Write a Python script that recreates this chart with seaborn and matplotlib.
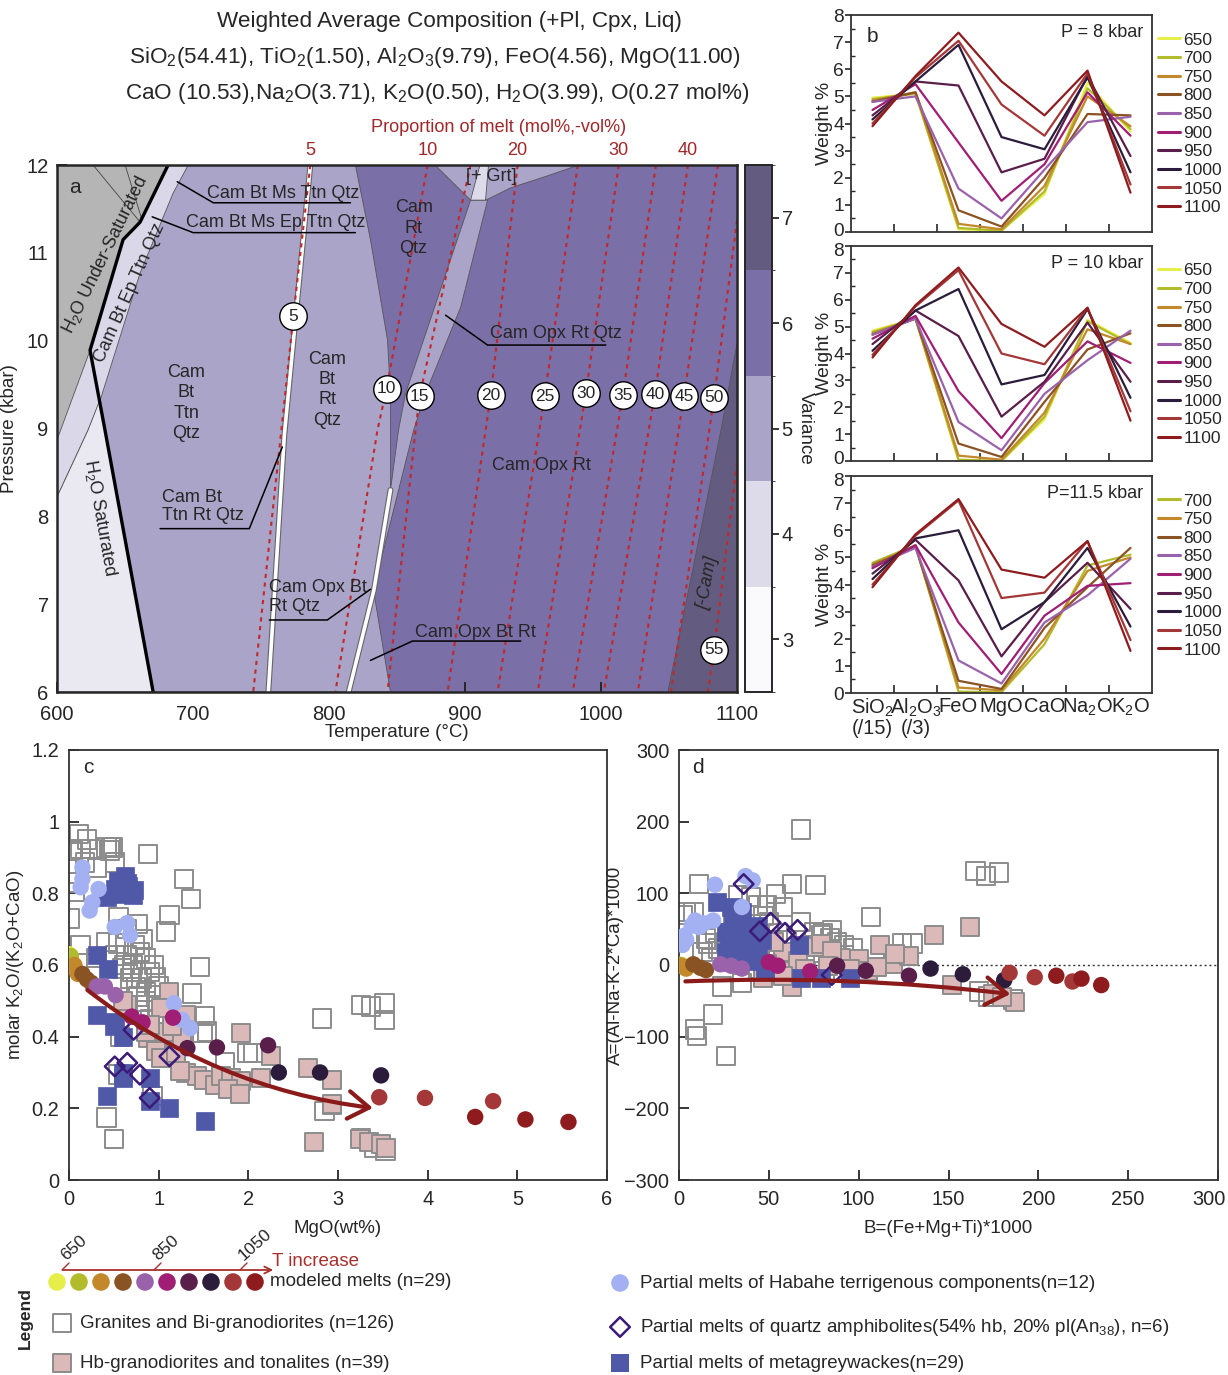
import numpy as np
import pandas as pd
import seaborn as sns
import matplotlib.pyplot as plt
from matplotlib import font_manager
from matplotlib.patches import FancyArrowPatch
from matplotlib.lines import Line2D
from matplotlib.colors import ListedColormap, BoundaryNorm
from matplotlib.cm import ScalarMappable
from matplotlib.ticker import MultipleLocator
from matplotlib.transforms import ScaledTranslation

# ---------------- panel a : phase diagram fields (T degC, P kbar) ----------------
grey_T = [600, 681.7, 661.1, 648.6, 624.3, 600]
grey_P = [12, 12, 11.35, 11.15, 9.89, 8.87]
solidus_T = [681.7, 661.1, 648.6, 624.3, 635.3, 670.7]
solidus_P = [12, 11.35, 11.15, 9.89, 8.98, 6.0]
epband_T = [600, 696.5, 685.4, 661.1, 631.7, 622.8, 600]
epband_P = [12, 12, 11.68, 10.77, 9.32, 8.98, 8.22]
sat_T = [600, 600, 622.8, 631.4, 635.3, 670.7]
sat_P = [6, 8.22, 8.98, 9.32, 8.98, 6]
var5_T = [600, 819.4, 830.5, 843.0, 845.2, 845.2, 851.1, 856.3, 904.1, 916.6,
          896.8, 871.0, 862.2, 832.7, 845.2, 600]
var5_P = [12, 12, 11.15, 10.01, 9.40, 8.30, 8.98, 9.40, 11.60, 11.60,
          10.38, 9.40, 8.98, 7.16, 6.0, 6.0]
grt_T = [878.0, 983.7, 959.4, 933.6, 916.6, 904.1]
grt_P = [12, 12, 11.87, 11.74, 11.61, 11.60]
grtgap_T = [904.1, 915.1, 917.3, 911.0]
grtgap_P = [11.6, 11.6, 12, 12]
nocam_T = [1049.2, 1088.2, 1100, 1100]
nocam_P = [6, 8.98, 9.97, 6]
white1_T = [786.3, 767.2, 755.4]
white1_P = [12, 8.93, 6]
white2_T = [845.2, 833.0, 814.5]
white2_P = [8.30, 7.16, 6]

# melt isopleths (mol%)
iso_melt = [5, 10, 15, 20, 25, 30, 35, 40, 45, 50, 55]
iso_T = [[786.3, 773.8, 764.2, 744.3], [872.5, 842.3, 835.6, 804.7],
         [904.1, 866.6, 863.6, 843.0], [938.7, 918.9, 887.2], [982.9, 958.6, 924.0],
         [1013.1, 988.8, 953.5], [1040.4, 1016.1, 979.2], [1063.9, 1039.6, 1002.1],
         [1086.0, 1061.0, 1027.1], [1100, 1083.1, 1051.4], [1100, 1083.1, 1078.6]]
iso_P = [[12, 10.28, 8.87, 6], [12, 9.45, 8.98, 6], [12, 9.37, 8.98, 6], [12, 9.38, 6],
         [12, 9.37, 6], [12, 9.40, 6], [12, 9.38, 6], [12, 9.39, 6], [12, 9.37, 6],
         [11.37, 9.35, 6], [8.61, 6.48, 6]]
top_melt = [5, 10, 20, 30, 40]

variance_levels = [3, 4, 5, 6, 7]
variance_colors = ['#fafafc', '#dddbea', '#aaa4c9', '#7b6fa8', '#645c80']

# ---------------- panel b : melt compositions ----------------
oxides = ['SiO$_2$\n(/15)', 'Al$_2$O$_3$\n(/3)', 'FeO', 'MgO', 'CaO', 'Na$_2$O', 'K$_2$O']
temps = [650, 700, 750, 800, 850, 900, 950, 1000, 1050, 1100]
temp_colors = ['#e6ee4a', '#b2bb2c', '#c2882a', '#8a5324', '#9a62aa', '#a01e74',
               '#5a1e4a', '#2a1c3a', '#a43838', '#8e1c1e']
wt_8kbar = [[4.95, 5.10, 0.10, 0.05, 1.40, 5.50, 3.70],
            [4.90, 5.10, 0.15, 0.05, 1.50, 5.30, 3.80],
            [4.85, 5.15, 0.30, 0.10, 1.70, 5.00, 3.90],
            [4.80, 5.15, 0.80, 0.20, 2.00, 4.35, 4.30],
            [4.80, 5.00, 1.60, 0.50, 2.30, 4.05, 4.25],
            [4.50, 5.45, 3.30, 1.15, 2.50, 5.15, 3.55],
            [4.30, 5.55, 5.40, 2.20, 2.70, 5.75, 2.80],
            [4.15, 5.55, 6.90, 3.50, 3.05, 5.70, 2.20],
            [4.00, 5.70, 7.05, 4.70, 3.55, 5.85, 1.75],
            [3.90, 5.75, 7.35, 5.55, 4.30, 5.95, 1.45]]
wt_10kbar = [[4.85, 5.30, 0.02, 0.00, 1.55, 5.25, 4.40],
             [4.80, 5.30, 0.05, 0.00, 1.65, 5.20, 4.35],
             [4.75, 5.30, 0.20, 0.05, 1.80, 4.90, 4.35],
             [4.70, 5.30, 0.65, 0.15, 2.20, 4.15, 4.75],
             [4.70, 5.30, 1.45, 0.40, 2.50, 3.75, 4.85],
             [4.55, 5.40, 2.60, 0.85, 2.90, 4.45, 3.65],
             [4.35, 5.60, 4.65, 1.65, 2.95, 5.15, 2.95],
             [4.10, 5.60, 6.40, 2.85, 3.20, 5.65, 2.35],
             [3.95, 5.75, 7.10, 4.00, 3.60, 5.70, 1.85],
             [3.85, 5.80, 7.20, 5.10, 4.25, 5.70, 1.50]]
temps_115 = [700, 750, 800, 850, 900, 950, 1000, 1050, 1100]
wt_115kbar = [[4.80, 5.45, 0.05, 0.03, 1.80, 4.70, 5.10],
              [4.75, 5.40, 0.20, 0.10, 2.00, 4.50, 5.00],
              [4.70, 5.40, 0.45, 0.15, 2.40, 3.90, 5.35],
              [4.65, 5.35, 1.20, 0.35, 2.60, 3.60, 4.95],
              [4.60, 5.45, 2.60, 0.70, 2.85, 3.95, 4.05],
              [4.40, 5.65, 4.15, 1.35, 3.35, 4.80, 3.10],
              [4.20, 5.70, 6.00, 2.35, 3.35, 5.35, 2.45],
              [4.00, 5.80, 7.10, 3.50, 3.70, 5.60, 1.95],
              [3.90, 5.85, 7.15, 4.55, 4.25, 5.60, 1.55]]

# ---------------- panel c : MgO vs molar K2O/(K2O+CaO) ----------------
model_T = [650, 650, 700, 700, 700, 750, 750, 750, 800, 800, 800, 850, 850, 850,
           900, 900, 900, 950, 950, 950, 1000, 1000, 1000, 1050, 1050, 1050, 1100, 1100, 1100]
c_model_mgo = [0.0, 0.01, 0.02, 0.03, 0.04, 0.06, 0.08, 0.10, 0.15, 0.20, 0.25, 0.31, 0.40, 0.52,
               0.70, 0.82, 1.16, 1.32, 1.65, 2.22, 2.34, 2.80, 3.48, 3.46, 3.97, 4.73, 4.53, 5.09, 5.57]
c_model_ratio = [0.63, 0.61, 0.625, 0.605, 0.595, 0.60, 0.585, 0.575, 0.575, 0.56, 0.55, 0.54, 0.54,
                 0.516, 0.456, 0.44, 0.453, 0.368, 0.37, 0.376, 0.30, 0.30, 0.292, 0.231, 0.229,
                 0.22, 0.176, 0.169, 0.162]
c_gran_mgo = [0.11, 0.13, 0.04, 0.24, 0.42, 0.49, 0.46, 0.31, 0.18, 0.51, 0.88, 1.28, 1.36, 0.01,
              0.02, 0.07, 0.55, 0.77, 1.12, 1.08, 0.82, 0.73, 0.55, 0.42, 0.13, 0.51, 0.64, 0.79,
              0.86, 0.71, 0.59, 0.90, 0.97, 0.81, 0.68, 0.75, 0.86, 1.46, 1.37, 1.52, 1.54, 1.49,
              1.99, 2.05, 1.74, 2.82, 3.26, 3.37, 3.52, 3.52, 2.85, 2.93, 0.42, 0.50, 0.93, 0.55,
              0.57, 0.86, 0.99, 0.77, 3.40, 3.53, 3.26, 0.62, 0.70, 0.95, 0.65, 0.30, 0.20, 0.47,
              1.00, 0.90, 1.20, 1.10, 0.78]
c_gran_ratio = [0.965, 0.923, 0.92, 0.923, 0.928, 0.928, 0.92, 0.87, 0.886, 0.886, 0.91, 0.84,
                0.785, 0.73, 0.83, 0.803, 0.734, 0.715, 0.74, 0.694, 0.673, 0.655, 0.66, 0.664,
                0.655, 0.627, 0.627, 0.636, 0.618, 0.60, 0.59, 0.581, 0.567, 0.562, 0.562, 0.539,
                0.525, 0.595, 0.52, 0.458, 0.414, 0.41, 0.354, 0.354, 0.33, 0.451, 0.488, 0.484,
                0.493, 0.447, 0.192, 0.21, 0.174, 0.114, 0.234, 0.294, 0.40, 0.498, 0.484, 0.512,
                0.09, 0.081, 0.118, 0.60, 0.58, 0.60, 0.70, 0.62, 0.95, 0.93, 0.54, 0.45, 0.40,
                0.36, 0.46]
c_hb_mgo = [1.12, 1.03, 0.65, 1.30, 1.08, 0.88, 0.97, 1.03, 1.19, 1.30, 1.43, 1.50, 1.63, 1.70,
            1.81, 1.92, 1.77, 1.91, 1.92, 2.25, 2.14, 2.67, 2.93, 2.93, 2.73, 3.24, 3.35, 3.48,
            3.53, 0.86, 0.90, 1.26, 1.24, 0.60, 1.15]
c_hb_ratio = [0.525, 0.479, 0.488, 0.461, 0.414, 0.396, 0.359, 0.34, 0.354, 0.299, 0.29, 0.28,
              0.266, 0.29, 0.285, 0.276, 0.253, 0.239, 0.41, 0.345, 0.285, 0.313, 0.28, 0.211,
              0.105, 0.114, 0.105, 0.10, 0.09, 0.414, 0.433, 0.396, 0.303, 0.50, 0.43]
c_grey_mgo = [0.62, 0.55, 0.66, 0.73, 0.51, 0.42, 0.60, 0.71, 0.31, 0.43, 0.31, 0.51, 0.60, 0.60,
              0.90, 0.42, 0.90, 1.12, 1.52, 0.65, 0.58, 0.50, 0.60]
c_grey_ratio = [0.849, 0.835, 0.821, 0.808, 0.812, 0.789, 0.798, 0.794, 0.627, 0.59, 0.461, 0.442,
                0.40, 0.285, 0.285, 0.234, 0.22, 0.202, 0.165, 0.83, 0.81, 0.43, 0.30]
c_hab_mgo = [0.15, 0.15, 0.13, 0.33, 0.26, 0.23, 0.51, 0.65, 0.68, 1.17, 1.26, 1.35]
c_hab_ratio = [0.872, 0.84, 0.817, 0.812, 0.775, 0.752, 0.706, 0.717, 0.683, 0.493, 0.447, 0.424]
c_amph_mgo = [0.72, 0.51, 0.65, 0.79, 0.90, 1.12]
c_amph_ratio = [0.419, 0.317, 0.327, 0.294, 0.229, 0.345]
c_arrow = [(0.18, 0.535), (3.42, 0.20)]

# ---------------- panel d : B vs A ----------------
d_model_B = [-2, 0, 0, 1, 2, 1, 3, 4, 8, 12, 15, 23, 29, 35, 50, 55, 73, 88, 104, 128,
             140, 158, 181, 184, 198, 219, 210, 224, 235]
d_model_A = [0, 0, 0, 0, -1, -1, -3, -5, 1, -4, -7, 1, -1, -5, 4, -1, -9, -1, -8, -15,
             -5, -13, -21, -11, -17, -23, -15, -19, -28]
d_gran_B = [11, 68, 63, 76, 4, 8, 33, 54, 44, 49, 58, 68, 75, 79, 84, 88, 92, 97, 107, 124, 130,
            165, 171, 178, 167, 172, 186, 19, 9, 10, 26, 24, 35, 15, 13, 22, 26, 40, 44, 81, 92,
            30, 20, 38, 50, 55, 60, 18, 28, 45, 52, 70, 80, 85, 33, 40, 2, 16, 36, 47]
d_gran_A = [113, 189, 113, 112, 74, 74, 97, 99, 83, 83, 81, 60, 46, 41, 37, 32, 28, 23, 67, 30, 30,
            131, 124, 129, -37, -44, -48, -69, -90, -99, -127, -30, -25, 37, 18, 23, 32, 14, -5,
            -9, 14, 60, 45, 50, 60, 45, 35, 10, 5, 20, 10, 20, 45, 48, 75, 95, 70, 30, 30, 68]
d_hb_B = [142, 162, 112, 100, 119, 128, 152, 58, 53, 73, 77, 61, 63, 47, 187, 175, 180, 105, 79,
          49, 66, 90, 95, 110, 58, 85, 70, 120, 83, 45]
d_hb_A = [42, 53, 28, 9, 2, 12, -28, 18, 32, 28, 25, -9, -30, -18, -51, -41, -45, -9, 30, 2, 5,
          10, -5, -3, -15, 20, -5, 15, -2, 10]
d_grey_B = [21, 29, 35, 33, 26, 37, 44, 42, 31, 26, 44, 67, 68, 79, 95, 48, 35, 40, 30, 38, 46,
            28, 33, 41]
d_grey_A = [88, 81, 74, 58, 46, 41, 55, 28, 30, 18, 14, 28, -18, -18, -18, -5, 37, 51, 65, 20, 35,
            38, 10, 5]
d_hab_B = [20, 37, 41, 35, 19, 14, 9, 7, 3, 2, 11, 4]
d_hab_A = [112, 124, 118, 81, 62, 58, 62, 55, 41, 28, 53, 35]
d_amph_B = [36, 45, 51, 59, 66, 85]
d_amph_A = [113, 47, 59, 45, 49, -14]
d_arrow = [(2, -23), (186, -41)]

# ---------------- figure ----------------
sns.set_style("ticks")
names = {f.name for f in font_manager.fontManager.ttflist}
NARROW = 'Liberation Sans Narrow' in names
FN = ['Liberation Sans Narrow', 'Liberation Sans', 'DejaVu Sans'] if NARROW else ['Liberation Sans', 'DejaVu Sans']
plt.rcParams['font.family'] = ['Liberation Sans', 'DejaVu Sans']
plt.rcParams['mathtext.default'] = 'regular'
plt.rcParams['axes.linewidth'] = 1.4
nsz = 1.0 if NARROW else 0.93

W, H = 1228, 1375
fig = plt.figure(figsize=(W / 100, H / 100), dpi=100)


def box(x0, y0, x1, y1):
    return [x0 / W, 1 - y1 / H, (x1 - x0) / W, (y1 - y0) / H]


def shift(lbl, dy_px):
    lbl.set_transform(lbl.get_transform() + ScaledTranslation(0, dy_px / 100, fig.dpi_scale_trans))


pal = dict(zip(temps, temp_colors))

# title
tsz = 17.5 if NARROW else 16.2
fig.text(449 / W, 1 - 21 / H, 'Weighted Average Composition (+Pl, Cpx, Liq)', family=FN,
         fontsize=tsz, ha='center', va='center')
fig.text(435 / W, 1 - 57 / H, 'SiO$_2$(54.41), TiO$_2$(1.50), Al$_2$O$_3$(9.79), FeO(4.56), MgO(11.00)',
         family=FN, fontsize=tsz, ha='center', va='center')
fig.text(437 / W, 1 - 93 / H, 'CaO (10.53),Na$_2$O(3.71), K$_2$O(0.50), H$_2$O(3.99), O(0.27 mol%)',
         family=FN, fontsize=tsz, ha='center', va='center')
fig.text(499 / W, 1 - 128 / H, 'Proportion of melt (mol%,-vol%)', family=FN, fontsize=14 * nsz,
         color='#a0282a', ha='center', va='center')

# ---- panel a ----
axa = fig.add_axes(box(57, 165, 737, 692))
axa.set_xlim(600, 1100)
axa.set_ylim(6, 12)
axa.set_facecolor(variance_colors[3])
edge = dict(ec='#555555', lw=0.6)
axa.fill(var5_T, var5_P, fc=variance_colors[2], zorder=1, **edge)
axa.fill(epband_T, epband_P, fc='#d9d7e8', zorder=1.2, **edge)
axa.fill(sat_T, sat_P, fc='#eae9f2', zorder=1.3, **edge)
axa.fill(grey_T, grey_P, fc='#b5b5b5', zorder=1.4, **edge)
axa.fill(grt_T, grt_P, fc='#aba5ca', zorder=1.5, **edge)
axa.fill(grtgap_T, grtgap_P, fc='#dddbea', zorder=1.6, **edge)
axa.fill(nocam_T, nocam_P, fc=variance_colors[4], zorder=1.5, **edge)
axa.plot([626.5, 661.1], [12, 11.35], color='#444', lw=0.6, zorder=1.7)
axa.plot([650.1, 662.6], [12, 11.37], color='#444', lw=0.6, zorder=1.7)
for wT, wP in [(white1_T, white1_P), (white2_T, white2_P)]:
    axa.plot(wT, wP, color='#666', lw=4.2, zorder=2)
    axa.plot(wT, wP, color='white', lw=2.6, zorder=2.1)
for t, p in zip(iso_T, iso_P):
    axa.plot(t, p, color='#c0282a', lw=1.5, ls=(0, (2.0, 2.2)), zorder=3)
axa.plot(solidus_T, solidus_P, color='black', lw=2.4, zorder=4)

lab_T = [t[1] for t in iso_T]
lab_P = [p[1] for p in iso_P]
axa.scatter(lab_T, lab_P, s=390, c='white', ec='black', lw=1.0, zorder=6)
for m, t, p in zip(iso_melt, lab_T, lab_P):
    axa.text(t, p, str(m), ha='center', va='center', fontsize=12.5, zorder=7)
for m, t, p in zip(iso_melt, iso_T, iso_P):
    if m in top_melt:
        axa.annotate(str(m), (t[0], 12), xytext=(0, 4), textcoords='offset points',
                     ha='center', va='bottom', fontsize=14 * nsz, family=FN, color='#a0282a',
                     annotation_clip=False)

fs_a = 13
axa.text(613, 11.74, 'a', fontsize=15, ha='center', va='center', zorder=8)
axa.text(635.3, 10.98, 'H$_2$O Under-Saturated', rotation=64, fontsize=fs_a, ha='center', va='center', zorder=8)
axa.text(653.5, 10.55, 'Cam Bt Ep Ttn Qtz', rotation=66, fontsize=fs_a, ha='center', va='center', zorder=8)
axa.text(631.5, 7.98, 'H$_2$O Saturated', rotation=-80, fontsize=fs_a, ha='center', va='center', zorder=8)
axa.text(695, 9.29, 'Cam\nBt\nTtn\nQtz', fontsize=fs_a, ha='center', va='center', linespacing=1.25, zorder=8)
axa.text(798.8, 9.44, 'Cam\nBt\nRt\nQtz', fontsize=fs_a, ha='center', va='center', linespacing=1.25, zorder=8)
axa.text(862.2, 11.28, 'Cam\nRt\nQtz', fontsize=fs_a, ha='center', va='center', linespacing=1.25, zorder=8)
axa.text(919.6, 11.87, '[+ Grt]', fontsize=fs_a, ha='center', va='center', zorder=8)
axa.text(956.4, 8.58, 'Cam Opx Rt', fontsize=fs_a, ha='center', va='center', zorder=8)
axa.text(1078.6, 7.24, '[-Cam]', fontsize=fs_a, style='italic', rotation=80, ha='center', va='center', zorder=8)

leaders = [
    ('Cam Bt Ms Ttn Qtz', [688.4, 714.9, 815.8], [11.81, 11.57, 11.57], (766.4, 11.68), 'center'),
    ('Cam Bt Ms Ep Ttn Qtz', [670.0, 700.1, 819.4], [11.41, 11.23, 11.23], (760.5, 11.35), 'center'),
    ('Cam Opx Rt Qtz', [885.7, 916.6, 1003.5], [10.29, 9.95, 9.95], (966.7, 10.08), 'center'),
    ('Cam Bt\nTtn Rt Qtz', [765.7, 741.4, 675.8], [8.79, 7.86, 7.86], (677.3, 8.11), 'left'),
    ('Cam Opx Bt\nRt Qtz', [830.5, 798.8, 756.1], [7.17, 6.82, 6.82], (756.1, 7.08), 'left'),
    ('Cam Opx Bt Rt', [830.5, 861.4, 941.0], [6.36, 6.58, 6.58], (907.8, 6.68), 'center'),
]
for txt, lx, ly, pos, ha in leaders:
    axa.plot(lx, ly, color='black', lw=1.1, zorder=5)
    axa.text(pos[0], pos[1], txt, fontsize=fs_a, ha=ha, va='center', linespacing=1.1, zorder=8)

axa.set_xticks([600, 700, 800, 900, 1000, 1100])
axa.set_yticks([6, 7, 8, 9, 10, 11, 12])
axa.tick_params(direction='in', length=7, width=1.4, labelsize=14.5, pad=6)
axa.tick_params(axis='x', pad=9)
axa.set_xlabel('Temperature (°C)', fontsize=13.5, labelpad=0)
axa.set_ylabel('Pressure (kbar)', fontsize=13.5, labelpad=6)
for s in axa.spines.values():
    s.set_linewidth(1.8)
    s.set_zorder(9)

axcb = fig.add_axes(box(745, 165, 772, 692))
cmap = ListedColormap(variance_colors)
norm = BoundaryNorm([2.5, 3.5, 4.5, 5.5, 6.5, 7.5], cmap.N)
cb = fig.colorbar(ScalarMappable(norm=norm, cmap=cmap), cax=axcb, ticks=variance_levels)
cb.outline.set_linewidth(1.4)
axcb.tick_params(labelsize=14.5, length=5, width=1.3, direction='out', pad=2)
cb.set_label('Variance', rotation=270, fontsize=13.5, labelpad=15)

# ---- panel b ----
b_boxes = [(851, 15, 1152, 232), (851, 246, 1152, 461), (851, 476, 1152, 693)]
b_sets = [(temps, wt_8kbar, 'P = 8 kbar'), (temps, wt_10kbar, 'P = 10 kbar'),
          (temps_115, wt_115kbar, 'P=11.5 kbar')]
for k, (bx, (tlist, vals, ptxt)) in enumerate(zip(b_boxes, b_sets)):
    ax = fig.add_axes(box(*bx))
    df = pd.DataFrame([(t, i, v) for t, row in zip(tlist, vals) for i, v in enumerate(row)],
                      columns=['T', 'pos', 'wt'])
    sns.lineplot(data=df, x='pos', y='wt', hue='T', palette={t: pal[t] for t in tlist},
                 ax=ax, legend=False, linewidth=1.6, estimator=None, sort=False)
    ax.set_xlim(-0.5, 6.5)
    ax.set_ylim(0, 8)
    ax.set_yticks(range(9))
    ax.yaxis.set_minor_locator(MultipleLocator(0.5))
    ax.set_xticks(range(7))
    ax.set_xticks([0.5, 1.5, 2.5, 3.5, 4.5, 5.5], minor=True)
    ax.tick_params(axis='x', which='major', length=0, pad=3)
    ax.tick_params(axis='x', which='minor', direction='in', length=6, width=1.2)
    ax.tick_params(axis='y', which='major', direction='out', length=4, width=1.2, labelsize=13.8, pad=1)
    ax.tick_params(axis='y', which='minor', direction='in', length=3, width=1.0)
    ylabels = ax.get_yticklabels()
    if k < 2:
        shift(ylabels[0], 3)
    if k > 0:
        shift(ylabels[-1], -3)
    if k == 2:
        ax.set_xticklabels(oxides, fontsize=14.5, linespacing=0.95)
        for lbl in ax.get_xticklabels():
            lbl.set_verticalalignment('top')
    else:
        ax.set_xticklabels([])
    ax.set_xlabel('')
    ax.set_ylabel('Weight %', fontsize=14, labelpad=0)
    ax.text(0.97, 0.92, ptxt, transform=ax.transAxes, ha='right', va='center', fontsize=13)
    if k == 0:
        ax.text(0.07, 0.90, 'b', transform=ax.transAxes, ha='center', va='center', fontsize=15)
    handles = [Line2D([], [], color=pal[t], lw=2.2) for t in tlist]
    ax.legend(handles, [str(t) for t in tlist], loc='upper left', bbox_to_anchor=(1.02, 0.92),
              frameon=False, fontsize=12.5, handlelength=1.25, handletextpad=0.2,
              labelspacing=0.2, borderaxespad=0, borderpad=0)
    for s in ax.spines.values():
        s.set_linewidth(1.3)
        s.set_color('#333333')

# ---- panels c and d ----
sq = 175
ci = 140


def scatter_groups(ax, g, hb, gw, hab, am, mx, my, arrow, rad):
    sns.scatterplot(x=g[0], y=g[1], marker='s', s=sq, facecolors='none', edgecolor='#8c8c8c',
                    linewidth=1.4, ax=ax, zorder=2)
    sns.scatterplot(x=hb[0], y=hb[1], marker='s', s=sq, color='#dcb9b9', edgecolor='#8c8c8c',
                    linewidth=1.4, ax=ax, zorder=3)
    sns.scatterplot(x=gw[0], y=gw[1], marker='s', s=150, color='#5059a8', edgecolor='#5059a8',
                    linewidth=0.5, ax=ax, zorder=3)
    sns.scatterplot(x=hab[0], y=hab[1], marker='o', s=ci, color='#a3b1f2', edgecolor='none',
                    ax=ax, zorder=4)
    sns.scatterplot(x=am[0], y=am[1], marker='D', s=100, facecolors='none', edgecolor='#3b1a78',
                    linewidth=1.8, ax=ax, zorder=4)
    dfm = pd.DataFrame({'x': mx, 'y': my, 'T': model_T})
    sns.scatterplot(data=dfm, x='x', y='y', hue='T', palette=pal, s=ci, edgecolor='none',
                    legend=False, ax=ax, zorder=5)
    ax.add_patch(FancyArrowPatch(arrow[0], arrow[1], connectionstyle=f'arc3,rad={rad}',
                                 arrowstyle='->,head_length=0.5,head_width=0.33', mutation_scale=30,
                                 lw=3, color='#8b1a1a', zorder=6))


axc = fig.add_axes(box(69, 750, 607, 1180))
scatter_groups(axc, (c_gran_mgo, c_gran_ratio), (c_hb_mgo, c_hb_ratio), (c_grey_mgo, c_grey_ratio),
               (c_hab_mgo, c_hab_ratio), (c_amph_mgo, c_amph_ratio), c_model_mgo, c_model_ratio,
               c_arrow, 0.14)
axc.set_xlim(0, 6)
axc.set_ylim(0, 1.2)
axc.set_xticks(range(7))
axc.set_yticks([0, 0.2, 0.4, 0.6, 0.8, 1.0, 1.2])
axc.set_yticklabels(['0', '0.2', '0.4', '0.6', '0.8', '1', '1.2'])
axc.set_xlabel('MgO(wt%)', fontsize=14.5 * nsz, family=FN, labelpad=8)
axc.set_ylabel('molar K$_2$O/(K$_2$O+CaO)', fontsize=14.5 * nsz, family=FN, labelpad=4)
axc.text(0.035, 0.96, 'c', transform=axc.transAxes, fontsize=15, ha='center', va='center')

axd = fig.add_axes(box(679, 750, 1218, 1180))
axd.axhline(0, color='#333333', lw=1.0, ls=(0, (1.5, 2.0)), zorder=1)
scatter_groups(axd, (d_gran_B, d_gran_A), (d_hb_B, d_hb_A), (d_grey_B, d_grey_A),
               (d_hab_B, d_hab_A), (d_amph_B, d_amph_A), d_model_B, d_model_A,
               d_arrow, -0.04)
axd.set_xlim(0, 300)
axd.set_ylim(-300, 300)
axd.set_xticks(range(0, 301, 50))
axd.set_yticks(range(-300, 301, 100))
axd.set_xlabel('B=(Fe+Mg+Ti)*1000', fontsize=14.5 * nsz, family=FN, labelpad=8)
axd.set_ylabel('A=(Al-Na-K-2*Ca)*1000', fontsize=14.5 * nsz, family=FN, labelpad=0)
axd.text(0.035, 0.96, 'd', transform=axd.transAxes, fontsize=15, ha='center', va='center')

for ax in (axc, axd):
    ax.tick_params(direction='in', length=7, width=1.3, labelsize=15.5 * nsz, pad=7)
    for lbl in ax.get_xticklabels() + ax.get_yticklabels():
        lbl.set_family(FN)
    for s in ax.spines.values():
        s.set_linewidth(1.3)
        s.set_color('#333333')
last = axd.get_xticklabels()[-1]
last.set_horizontalalignment('right')
last.set_transform(last.get_transform() + ScaledTranslation(8 / 100, 0, fig.dpi_scale_trans))

# ---- legend strip ----
axl = fig.add_axes(box(0, 1238, W, H))
axl.set_xlim(0, W)
axl.set_ylim(H, 1238)
axl.axis('off')
leg_x = [57 + 22 * i for i in range(len(temps))]
axl.scatter(leg_x, [1282] * len(temps), s=160, c=temp_colors, ec='none')
axl.annotate('', xy=(276, 1270), xytext=(60, 1270),
             arrowprops=dict(arrowstyle='->,head_length=0.5,head_width=0.25', color='#a8302c', lw=1.3))
for tx, lab in [(62, '650'), (154, '850'), (240, '1050')]:
    axl.plot([tx, tx + 7], [1270, 1263], color='#a8302c', lw=1.0)
    axl.text(tx + 6, 1263, lab, rotation=42, rotation_mode='anchor', ha='left', va='bottom',
             fontsize=12.5, family=FN)
axl.text(272, 1261, 'T increase', color='#a8302c', fontsize=13.5, va='center', ha='left')
axl.text(270, 1282, 'modeled melts (n=29)', fontsize=13.5, va='center')
axl.text(25, 1318, 'Legend', rotation=90, fontsize=12.5, fontweight='bold', ha='center', va='center')
axl.scatter([62], [1323], marker='s', s=170, facecolors='none', edgecolors='#8c8c8c', linewidths=1.4)
axl.text(80, 1323, 'Granites and Bi-granodiorites (n=126)', fontsize=13.5, va='center')
axl.scatter([62], [1363], marker='s', s=170, c='#dcb9b9', edgecolors='#8c8c8c', linewidths=1.4)
axl.text(80, 1363, 'Hb-granodiorites and tonalites (n=39)', fontsize=13.5, va='center')
axl.scatter([620], [1283], marker='o', s=160, c='#a3b1f2', ec='none')
axl.text(640, 1283, 'Partial melts of Habahe terrigenous components(n=12)', fontsize=13.5, va='center')
axl.scatter([620], [1327], marker='D', s=100, facecolors='none', edgecolors='#3b1a78', linewidths=1.8)
axl.text(640, 1327, 'Partial melts of quartz amphibolites(54% hb, 20% pl(An$_{38}$), n=6)',
         fontsize=13.5, va='center')
axl.scatter([620], [1363], marker='s', s=150, c='#5059a8', ec='none')
axl.text(640, 1363, 'Partial melts of metagreywackes(n=29)', fontsize=13.5, va='center')

fig.savefig('out.png', dpi=100)
